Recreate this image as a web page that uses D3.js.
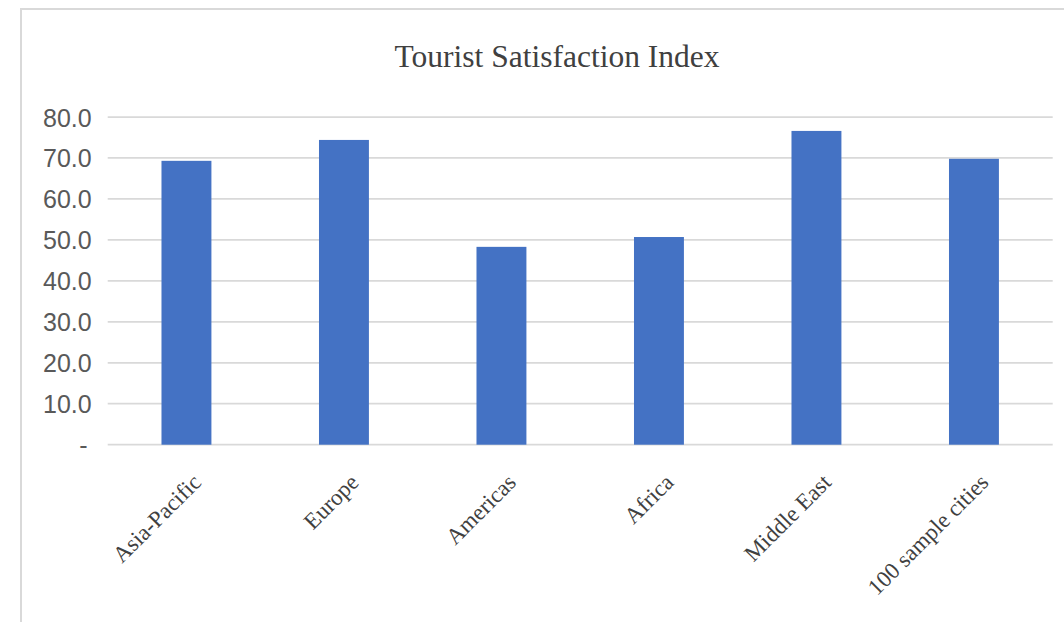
<!DOCTYPE html>
<html>
<head>
<meta charset="utf-8">
<script src="https://cdn.jsdelivr.net/npm/d3@7"></script>
<style>
  html, body { margin: 0; padding: 0; background: #fff; }
  svg { display: block; }
</style>
</head>
<body>
<svg id="chart" width="1064" height="622"></svg>
<script>
// Tourist satisfaction by region
const categories = ["Asia-Pacific", "Europe", "Americas", "Africa", "Middle East", "100 sample cities"];
const values = [69.3, 74.4, 48.3, 50.7, 76.6, 69.8];
const yTicks = [0, 10, 20, 30, 40, 50, 60, 70, 80];
const yTickLabels = ["-", "10.0", "20.0", "30.0", "40.0", "50.0", "60.0", "70.0", "80.0"];
const chartTitle = "Tourist Satisfaction Index";

const svg = d3.select("#chart");

// chart frame (extends past the right and bottom edges)
svg.append("rect")
  .attr("x", 21).attr("y", 9)
  .attr("width", 1100).attr("height", 700)
  .attr("fill", "#fff")
  .attr("stroke", "#d9d9d9")
  .attr("stroke-width", 2);

const plot = { left: 107.7, right: 1052.7, top: 117, bottom: 444.7 };

const x = d3.scaleBand()
  .domain(categories)
  .range([plot.left, plot.right])
  .paddingInner(0.683)
  .paddingOuter(0.3415);

const y = d3.scaleLinear()
  .domain([0, 80])
  .range([plot.bottom, plot.top]);

// title
svg.append("text")
  .attr("x", 557)
  .attr("y", 67)
  .attr("text-anchor", "middle")
  .attr("font-family", "'Liberation Serif', 'Times New Roman', serif")
  .attr("font-size", 31.5)
  .attr("fill", "#404040")
  .text(chartTitle);

// horizontal gridlines
svg.append("g")
  .selectAll("line")
  .data(yTicks)
  .join("line")
  .attr("x1", plot.left).attr("x2", plot.right)
  .attr("y1", d => y(d)).attr("y2", d => y(d))
  .attr("stroke", "#d9d9d9")
  .attr("stroke-width", 1.75);

// y axis labels
const yAxis = d3.axisLeft(y)
  .tickValues(yTicks)
  .tickFormat((d, i) => yTickLabels[i])
  .tickSize(0)
  .tickPadding(16);

const yg = svg.append("g")
  .attr("transform", `translate(${plot.left},0)`)
  .call(yAxis);
yg.select(".domain").remove();
yg.selectAll("text")
  .attr("font-family", "'Liberation Sans', Arial, sans-serif")
  .attr("font-size", 25)
  .attr("fill", "#595959")
  .attr("dy", "0.36em");
yg.selectAll(".tick").filter(d => d === 0).select("text")
  .attr("dx", -4);

// bars
svg.append("g")
  .selectAll("rect")
  .data(values)
  .join("rect")
  .attr("x", (d, i) => x(categories[i]))
  .attr("y", d => y(d))
  .attr("width", x.bandwidth())
  .attr("height", d => y(0) - y(d))
  .attr("fill", "#4472c4");

// x axis labels, rotated
const xAxis = d3.axisBottom(x).tickSize(0).tickPadding(0);
const xg = svg.append("g")
  .attr("transform", `translate(0,${plot.bottom})`)
  .call(xAxis);
xg.select(".domain").remove();
xg.selectAll("text")
  .attr("font-family", "'Liberation Serif', 'Times New Roman', serif")
  .attr("font-size", 23)
  .attr("fill", "#404040")
  .attr("text-anchor", "end")
  .attr("dy", null)
  .attr("y", 0)
  .attr("transform", "translate(16,39) rotate(-45)");
</script>
</body>
</html>
